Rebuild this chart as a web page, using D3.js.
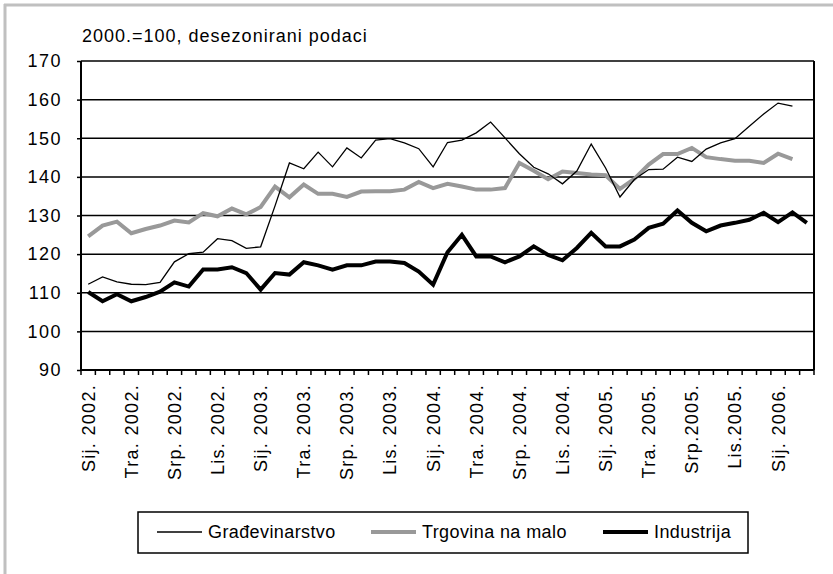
<!DOCTYPE html>
<html>
<head>
<meta charset="utf-8">
<script src="https://cdn.jsdelivr.net/npm/d3@7"></script>
<style>
  body { margin: 0; background: #fff; }
  text { font-family: "Liberation Sans", Arial, sans-serif; fill: #000; }
</style>
</head>
<body>
<div id="chart"></div>
<script>
var categories = [
  "2002-01","2002-02","2002-03","2002-04","2002-05","2002-06","2002-07","2002-08","2002-09","2002-10","2002-11","2002-12",
  "2003-01","2003-02","2003-03","2003-04","2003-05","2003-06","2003-07","2003-08","2003-09","2003-10","2003-11","2003-12",
  "2004-01","2004-02","2004-03","2004-04","2004-05","2004-06","2004-07","2004-08","2004-09","2004-10","2004-11","2004-12",
  "2005-01","2005-02","2005-03","2005-04","2005-05","2005-06","2005-07","2005-08","2005-09","2005-10","2005-11","2005-12",
  "2006-01","2006-02","2006-03"
];

var tickLabels = ["Sij. 2002.","Tra. 2002.","Srp. 2002.","Lis. 2002.","Sij. 2003.","Tra. 2003.","Srp. 2003.","Lis. 2003.",
  "Sij. 2004.","Tra. 2004.","Srp. 2004.","Lis. 2004.","Sij. 2005.","Tra. 2005.","Srp.2005.","Lis.2005.","Sij. 2006."];

var yTicks = [90, 100, 110, 120, 130, 140, 150, 160, 170];

var gradjevinarstvo = [112.2,114.1,112.8,112.2,112.1,112.7,118.0,120.1,120.5,124.0,
  123.5,121.5,121.9,132.5,143.6,142.1,146.4,142.6,147.5,144.9,
  149.5,149.9,148.8,147.3,142.6,148.9,149.5,151.4,154.2,150.1,
  146.0,142.5,140.8,138.2,141.5,148.5,142.3,134.8,139.3,141.9,
  142.0,145.1,144.0,147.2,148.8,149.9,153.1,156.3,159.1,158.3];

var trgovina = [124.6,127.4,128.4,125.4,126.5,127.4,128.7,128.2,130.6,129.8,
  131.8,130.3,132.2,137.5,134.7,138.0,135.6,135.6,134.8,136.2,
  136.3,136.3,136.7,138.7,137.1,138.2,137.5,136.7,136.7,137.1,
  143.6,141.6,139.4,141.4,141.0,140.6,140.4,136.9,139.5,143.2,
  145.9,145.9,147.5,145.1,144.6,144.2,144.2,143.6,146.0,144.6];

var industrija = [110.2,107.8,109.6,107.8,108.9,110.3,112.7,111.6,116.0,116.0,
  116.6,115.1,110.8,115.1,114.7,117.9,117.1,116.0,117.1,117.1,
  118.1,118.1,117.7,115.5,112.1,120.5,125.0,119.4,119.4,117.9,
  119.4,122.0,119.8,118.4,121.6,125.5,122.0,122.0,123.8,126.8,
  127.9,131.3,128.1,125.9,127.4,128.1,128.9,130.7,128.3,130.8,
  128.1];

var seriesNames = ["Građevinarstvo", "Trgovina na malo", "Industrija"];

var svgWidth = 833;
var svgHeight = 574;
var plot = { left: 81, right: 814, top: 61, bottom: 370 };

var svg = d3.select("#chart")
  .append("svg")
  .attr("width", svgWidth)
  .attr("height", svgHeight)
  .style("display", "block");

svg.append("rect")
  .attr("width", svgWidth)
  .attr("height", svgHeight)
  .attr("fill", "#fff");

// grey frame (top and left only)
svg.append("line")
  .attr("x1", 4).attr("x2", svgWidth).attr("y1", 5).attr("y2", 5)
  .attr("stroke", "#c0c0c0").attr("stroke-width", 3);
svg.append("line")
  .attr("x1", 5).attr("x2", 5).attr("y1", 4).attr("y2", svgHeight)
  .attr("stroke", "#c0c0c0").attr("stroke-width", 3);

svg.append("text")
  .attr("x", 82)
  .attr("y", 42)
  .attr("font-size", "18px")
  .attr("letter-spacing", "1px")
  .text("2000.=100, desezonirani podaci");

var xScale = d3.scaleBand()
  .domain(categories)
  .range([plot.left, plot.right])
  .padding(0);

var yScale = d3.scaleLinear()
  .domain([90, 170])
  .range([plot.bottom, plot.top]);

var cx = d => xScale(d) + xScale.bandwidth() / 2;

// gridlines
svg.append("g")
  .selectAll("line")
  .data(yTicks)
  .enter()
  .append("line")
  .attr("x1", plot.left)
  .attr("x2", plot.right)
  .attr("y1", d => yScale(d))
  .attr("y2", d => yScale(d))
  .attr("stroke", "#000")
  .attr("stroke-width", 1.5);

// y axis
var leftAxis = d3.axisLeft(yScale)
  .tickValues(yTicks)
  .tickSize(4)
  .tickPadding(15);

var yAxis = svg.append("g")
  .attr("transform", `translate(${plot.left}, 0)`)
  .call(leftAxis);
yAxis.select(".domain").remove();
yAxis.selectAll(".tick line").attr("stroke", "#000").attr("stroke-width", 1.5);
yAxis.selectAll(".tick text")
  .attr("font-size", "18px")
  .attr("letter-spacing", "1.5px")
  .attr("font-family", "Liberation Sans, Arial, sans-serif")
  .attr("fill", "#000");

// plot borders
svg.append("line")
  .attr("x1", plot.left).attr("x2", plot.left)
  .attr("y1", plot.top).attr("y2", plot.bottom)
  .attr("stroke", "#000").attr("stroke-width", 2);
svg.append("line")
  .attr("x1", plot.right).attr("x2", plot.right)
  .attr("y1", plot.top).attr("y2", plot.bottom)
  .attr("stroke", "#000").attr("stroke-width", 2);
svg.append("line")
  .attr("x1", plot.left).attr("x2", plot.right)
  .attr("y1", plot.bottom).attr("y2", plot.bottom)
  .attr("stroke", "#000").attr("stroke-width", 2);

// x tick marks between categories
var tickPos = categories.map(d => xScale(d)).concat([plot.right]);
svg.append("g")
  .selectAll("line")
  .data(tickPos)
  .enter()
  .append("line")
  .attr("x1", d => d).attr("x2", d => d)
  .attr("y1", plot.bottom).attr("y2", plot.bottom + 5)
  .attr("stroke", "#000")
  .attr("stroke-width", 1.5);

// x labels, every third month
svg.append("g")
  .selectAll("text")
  .data(tickLabels)
  .enter()
  .append("text")
  .attr("transform", (d, i) => `translate(${cx(categories[i * 3])}, ${plot.bottom + 14}) rotate(-90)`)
  .attr("dy", "0.36em")
  .attr("text-anchor", "end")
  .attr("font-size", "18px")
  .attr("letter-spacing", "1.3px")
  .text(d => d);

// lines
var line = d3.line()
  .x((d, i) => cx(categories[i]))
  .y(d => yScale(d));

svg.append("path")
  .datum(trgovina)
  .attr("d", line)
  .attr("fill", "none")
  .attr("stroke", "#999999")
  .attr("stroke-width", 4)
  .attr("stroke-linejoin", "miter");

svg.append("path")
  .datum(industrija)
  .attr("d", line)
  .attr("fill", "none")
  .attr("stroke", "#000")
  .attr("stroke-width", 4)
  .attr("stroke-linejoin", "miter");

svg.append("path")
  .datum(gradjevinarstvo)
  .attr("d", line)
  .attr("fill", "none")
  .attr("stroke", "#000")
  .attr("stroke-width", 1.3);

// legend
var legend = svg.append("g");
legend.append("rect")
  .attr("x", 138).attr("y", 512)
  .attr("width", 610).attr("height", 41)
  .attr("fill", "#fff")
  .attr("stroke", "#000")
  .attr("stroke-width", 1.5);

var legendItems = [
  { name: seriesNames[0], x: 157, color: "#000", w: 1.3 },
  { name: seriesNames[1], x: 371, color: "#999999", w: 4 },
  { name: seriesNames[2], x: 603, color: "#000", w: 4 }
];

var item = legend.selectAll(".item")
  .data(legendItems)
  .enter()
  .append("g")
  .attr("class", "item")
  .attr("transform", d => `translate(${d.x}, 532)`);

item.append("line")
  .attr("x1", 0).attr("x2", 45)
  .attr("stroke", d => d.color)
  .attr("stroke-width", d => d.w);

item.append("text")
  .attr("x", 51)
  .attr("dy", "0.35em")
  .attr("font-size", "18px")
  .attr("letter-spacing", "0.4px")
  .text(d => d.name);
</script>
</body>
</html>
